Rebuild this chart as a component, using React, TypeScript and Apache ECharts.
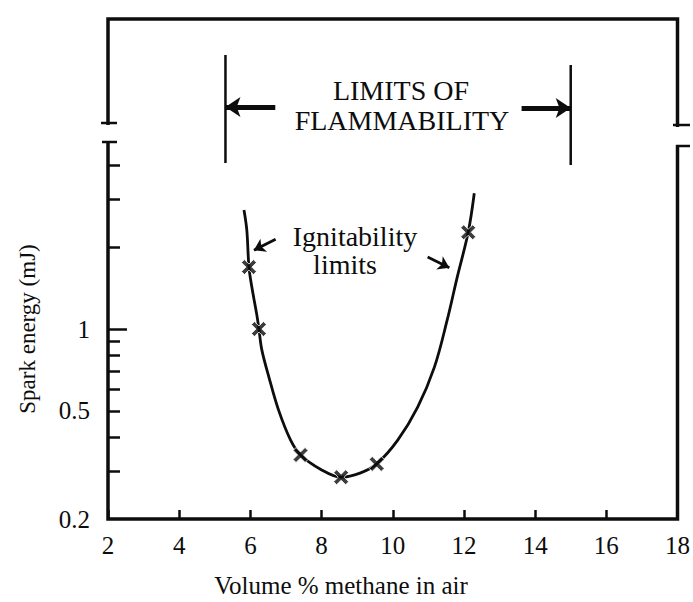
import React, { useEffect, useRef } from "react";
import * as echarts from "echarts";

// ---- axes ----
const xMin = 2;
const xMax = 18;
const xStep = 2;
const yMin = 0.2;
const yMax = 13.83;
const yMinorTicks = [0.3, 0.4, 0.5, 0.6, 0.7, 0.8, 0.9, 2, 3, 4];
const yMajorTicks = [1];
const yTickLabels = [0.2, 0.5, 1];

// ---- fitted curve (volume % methane, spark energy mJ) ----
const curveX = [5.82, 5.9, 5.96, 6.04, 6.18, 6.24, 6.32, 6.52, 6.79, 7.13, 7.41, 7.97, 8.55, 9.08, 9.55, 10.14, 10.7, 11.17, 11.53, 11.81, 12.12, 12.29];
const curveY = [2.74, 2.31, 1.69, 1.43, 1.13, 1.0, 0.84, 0.666, 0.504, 0.39, 0.344, 0.305, 0.285, 0.295, 0.319, 0.39, 0.516, 0.724, 1.08, 1.55, 2.27, 3.16];

// ---- measured points ----
const markerX = [5.96, 6.24, 7.41, 8.55, 9.55, 12.12];
const markerY = [1.69, 1.0, 0.344, 0.285, 0.319, 2.27];

// ---- limits of flammability ----
const flammabilityLimits = [5.3, 15.0];
const limitLineTop = [10.2, 9.36];
const limitLineBottom = [4.08, 4.01];
const limitArrowY = [6.56, 6.5];
const limitArrowStartX = [6.7, 13.62];

// ---- ignitability arrows ----
const ignitArrowStart = [
  [6.71, 2.14],
  [10.98, 1.84],
];
const ignitArrowEnd = [
  [6.1, 1.95],
  [11.59, 1.68],
];

const FONT = "'Liberation Serif', 'DejaVu Serif', 'Times New Roman', serif";
const INK = "#0d0d0d";
const X_SYMBOL = "path://M2,0 L5,3 L8,0 L10,2 L7,5 L10,8 L8,10 L5,7 L2,10 L0,8 L3,5 L0,2 Z";

export default function App() {
  const ref = useRef<HTMLDivElement>(null);

  useEffect(() => {
    if (!ref.current) return;
    const chart = echarts.init(ref.current, null, { renderer: "svg" });

    const curve = curveX.map((x, i) => [x, curveY[i]]);
    const markers = markerX.map((x, i) => [x, markerY[i]]);

    const limitSeries = flammabilityLimits.map((x, i) => ({
      type: "line",
      data: [
        [x, limitLineTop[i]],
        [x, limitLineBottom[i]],
      ],
      symbol: "none",
      lineStyle: { color: INK, width: 2.5 },
      silent: true,
      z: 3,
      markLine: {
        silent: true,
        symbol: ["none", "arrow"],
        symbolSize: 15,
        label: { show: false },
        lineStyle: { color: INK, width: 5, type: "solid" },
        data: [
          [
            { coord: [limitArrowStartX[i], limitArrowY[i]] },
            { coord: [x, limitArrowY[i]] },
          ],
        ],
      },
    }));

    const textStyle = (text: string, size: number, lh?: number) => ({
      text,
      fontFamily: FONT,
      fontSize: size,
      lineHeight: lh ?? size,
      fill: INK,
      align: "center",
      verticalAlign: "middle",
    });

    const option: any = {
      animation: false,
      backgroundColor: "#ffffff",
      grid: {
        left: 108,
        right: 11,
        top: 19,
        bottom: 83,
        show: true,
        borderColor: INK,
        borderWidth: 3.5,
        backgroundColor: "transparent",
      },
      xAxis: {
        type: "value",
        min: xMin,
        max: xMax,
        interval: xStep,
        axisLine: { show: false },
        splitLine: { show: false },
        axisTick: { show: true, inside: true, length: 9, lineStyle: { color: INK, width: 2.5 } },
        axisLabel: {
          color: INK,
          fontFamily: FONT,
          fontSize: 25,
          margin: 14,
        },
      },
      yAxis: [
        {
          type: "log",
          min: yMin,
          max: yMax,
          position: "left",
          axisLine: { show: false },
          splitLine: { show: false },
          minorTick: { show: false },
          axisTick: {
            show: true,
            inside: true,
            length: 12,
            customValues: yMinorTicks,
            lineStyle: { color: INK, width: 2.5 },
          },
          axisLabel: {
            customValues: yTickLabels,
            color: INK,
            fontFamily: FONT,
            fontSize: 25,
            margin: 18,
            formatter: (v: number) => String(+Number(v).toPrecision(3)),
          },
        },
        {
          type: "log",
          min: yMin,
          max: yMax,
          position: "left",
          offset: 0,
          axisLine: { show: false },
          splitLine: { show: false },
          axisLabel: { show: false },
          axisTick: {
            show: true,
            inside: true,
            length: 19,
            customValues: yMajorTicks,
            lineStyle: { color: INK, width: 2.5 },
          },
        },
      ],
      series: [
        {
          type: "line",
          data: curve,
          smooth: 0.35,
          symbol: "none",
          lineStyle: { color: INK, width: 2.8 },
          silent: true,
          z: 3,
          markLine: {
            silent: true,
            symbol: ["none", "arrow"],
            symbolSize: 11,
            label: { show: false },
            lineStyle: { color: INK, width: 2.8, type: "solid" },
            data: ignitArrowStart.map((s, i) => [
              { coord: s },
              { coord: ignitArrowEnd[i] },
            ]),
          },
        },
        {
          type: "scatter",
          data: markers,
          symbol: X_SYMBOL,
          symbolSize: 15,
          itemStyle: { color: INK, borderColor: "#ffffff", borderWidth: 1 },
          silent: true,
          z: 4,
        },
        ...limitSeries,
      ],
      graphic: [
        // axis breaks (left and right)
        { type: "rect", z: 100, shape: { x: 98, y: 125, width: 22, height: 16 }, style: { fill: "#ffffff" } },
        { type: "line", z: 101, shape: { x1: 101, y1: 123, x2: 117, y2: 123 }, style: { stroke: INK, lineWidth: 2.5 } },
        { type: "line", z: 101, shape: { x1: 102, y1: 142, x2: 117, y2: 142 }, style: { stroke: INK, lineWidth: 2.5 } },
        { type: "rect", z: 100, shape: { x: 672, y: 127, width: 21, height: 18 }, style: { fill: "#ffffff" } },
        { type: "line", z: 101, shape: { x1: 673, y1: 125, x2: 690, y2: 125 }, style: { stroke: INK, lineWidth: 2.5 } },
        { type: "line", z: 101, shape: { x1: 676, y1: 146, x2: 690, y2: 146 }, style: { stroke: INK, lineWidth: 2.5 } },
        // annotations
        { type: "text", z: 102, x: 401, y: 90, style: textStyle("LIMITS OF", 28, 26) },
        { type: "text", z: 102, x: 402, y: 120, style: textStyle("FLAMMABILITY", 28, 26) },
        { type: "text", z: 102, x: 355, y: 236, style: textStyle("Ignitability", 28, 24) },
        { type: "text", z: 102, x: 345, y: 264, style: textStyle("limits", 28, 24) },
        // axis names
        { type: "text", z: 102, x: 341, y: 585, style: textStyle("Volume % methane in air", 25) },
        { type: "text", z: 102, x: 27, y: 329, rotation: Math.PI / 2, style: textStyle("Spark energy (mJ)", 23) },
      ],
    };

    chart.setOption(option);
    return () => chart.dispose();
  }, []);

  return <div ref={ref} style={{ width: 693, height: 602, position: "absolute", left: 0, top: 0 }} />;
}
